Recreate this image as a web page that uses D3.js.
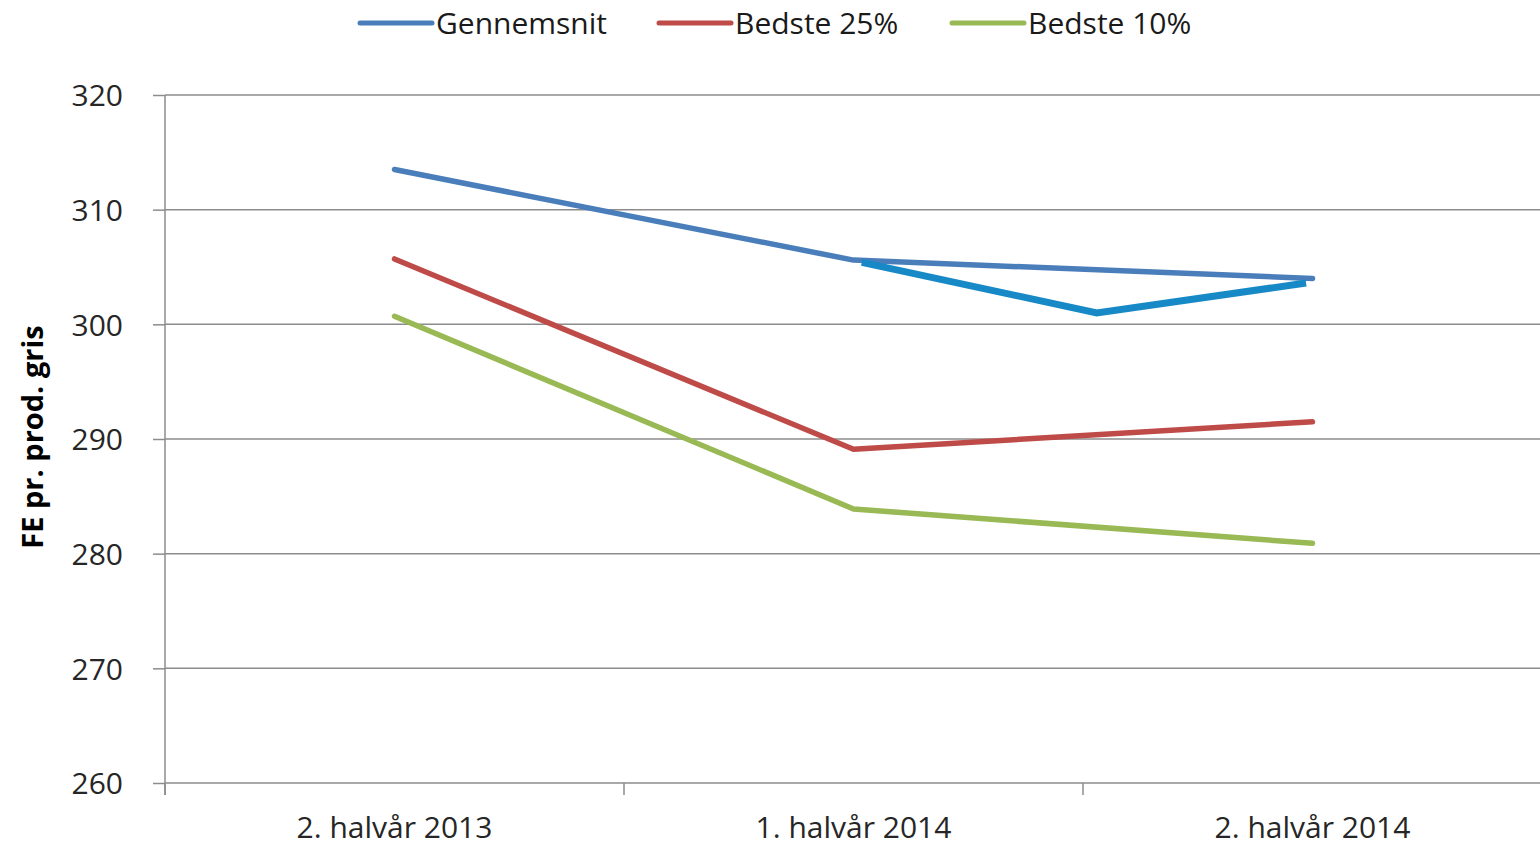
<!DOCTYPE html>
<html>
<head>
<meta charset="utf-8">
<script src="https://cdn.jsdelivr.net/npm/d3@7"></script>
<style>
html,body{margin:0;padding:0;background:#fff;}
text{font-family:"Open Sans","Noto Sans",sans-serif;}
</style>
</head>
<body>
<svg id="chart" width="1540" height="846"></svg>
<script>
const categories = ["2. halvår 2013", "1. halvår 2014", "2. halvår 2014"];
const seriesNames = ["Gennemsnit", "Bedste 25%", "Bedste 10%"];
const gennemsnit = [313.5, 305.6, 304.0];
const bedste25 = [305.7, 289.1, 291.5];
const bedste10 = [300.7, 283.9, 280.9];
const yTicks = [260, 270, 280, 290, 300, 310, 320];
const yTitle = "FE pr. prod. gris";
// hand-drawn annotation line (x as fractional category index, y in data units)
const annotX = [1.018, 1.53, 1.986];
const annotY = [305.4, 301.0, 303.6];

const colors = ["#4A7EBB", "#BE4B48", "#98B954"];
const seriesValues = [gennemsnit, bedste25, bedste10];

const svg = d3.select("#chart");
const pL = 165, pR = 1542, pT = 95, pB = 783;

const x = d3.scaleBand().domain(categories).range([pL, pR]);
const xi = d3.scaleLinear().domain([0, 1]).range([x(categories[0]) + x.bandwidth()/2, x(categories[1]) + x.bandwidth()/2]);
const y = d3.scaleLinear().domain([260, 320]).range([pB, pT]);

// gridlines
svg.append("g").selectAll("line").data(yTicks.filter(d => d !== 260)).join("line")
  .attr("x1", pL).attr("x2", 1540)
  .attr("y1", d => y(d)).attr("y2", d => y(d))
  .attr("stroke", "#8c8c8c").attr("stroke-width", 1.5);

// y axis
const yAxis = svg.append("g").attr("transform", `translate(${pL},0)`)
  .call(d3.axisLeft(y).tickValues(yTicks).tickSize(12).tickPadding(30));
yAxis.select(".domain").attr("stroke", "#8c8c8c").attr("stroke-width", 1.5)
  .attr("d", `M0,${pT}V${pB + 12}`);
yAxis.selectAll(".tick line").attr("stroke", "#8c8c8c").attr("stroke-width", 1.5);
yAxis.selectAll(".tick text").attr("font-size", 30).attr("fill", "#262626")
  .attr("text-anchor", "end").attr("dx", 0).attr("dy", "0.36em");

// x axis
const xAxis = svg.append("g").attr("transform", `translate(0,${pB})`)
  .call(d3.axisBottom(x).tickSize(0).tickPadding(38));
xAxis.select(".domain").attr("stroke", "#8c8c8c").attr("stroke-width", 1.5)
  .attr("d", `M${pL},0H1540`);
xAxis.selectAll(".tick text").attr("font-size", 30).attr("fill", "#262626").attr("dy", "0.55em");
// category boundary ticks
const bounds = categories.map(c => x(c)).concat([x(categories[2]) + x.bandwidth()]);
svg.append("g").selectAll("line").data(bounds).join("line")
  .attr("x1", d => d).attr("x2", d => d)
  .attr("y1", pB).attr("y2", pB + 12)
  .attr("stroke", "#8c8c8c").attr("stroke-width", 1.5);

// y title
svg.append("text")
  .attr("transform", `translate(43,437) rotate(-90)`)
  .attr("text-anchor", "middle").attr("font-size", 29).attr("font-weight", "bold")
  .attr("fill", "#000").text(yTitle);

// series lines
const line = d3.line().x((d, i) => x(categories[i]) + x.bandwidth() / 2).y(d => y(d));
seriesValues.forEach((vals, k) => {
  svg.append("path").datum(vals)
    .attr("d", line).attr("fill", "none")
    .attr("stroke", colors[k]).attr("stroke-width", 5.5)
    .attr("stroke-linejoin", "round").attr("stroke-linecap", "round");
});

// annotation
const annotLine = d3.line().x(d => xi(d[0])).y(d => y(d[1]));
svg.append("path").datum(annotX.map((v, i) => [v, annotY[i]]))
  .attr("d", annotLine).attr("fill", "none")
  .attr("stroke", "#1789C6").attr("stroke-width", 7).attr("stroke-linejoin", "miter");

// legend
const legendX = [360, 659, 952];
const leg = svg.append("g");
seriesNames.forEach((n, k) => {
  leg.append("line").attr("x1", legendX[k]).attr("x2", legendX[k] + 72)
    .attr("y1", 23).attr("y2", 23)
    .attr("stroke", colors[k]).attr("stroke-width", 5).attr("stroke-linecap", "round");
  leg.append("text").attr("x", legendX[k] + 76).attr("y", 23).attr("dy", "0.36em")
    .attr("font-size", 30).attr("fill", "#1a1a1a").text(n);
});
</script>
</body>
</html>
